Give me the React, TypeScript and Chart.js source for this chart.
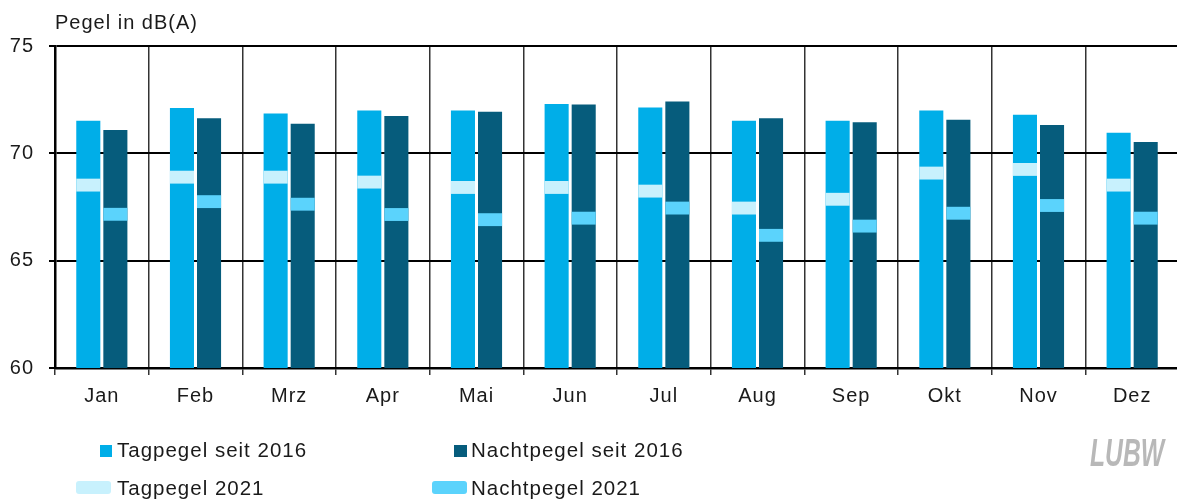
import React, { useEffect, useRef } from "react";
import { Chart, registerables } from "chart.js";

Chart.register(...registerables);

const months = ["Jan", "Feb", "Mrz", "Apr", "Mai", "Jun", "Jul", "Aug", "Sep", "Okt", "Nov", "Dez"];
const tag2016 = [71.52, 72.11, 71.86, 72.0, 72.0, 72.3, 72.13, 71.52, 71.52, 72.0, 71.8, 70.96];
const nacht2016 = [71.09, 71.63, 71.38, 71.74, 71.94, 72.28, 72.42, 71.63, 71.45, 71.57, 71.32, 70.53];
const tag2021 = [68.52, 68.89, 68.89, 68.66, 68.41, 68.41, 68.24, 67.45, 67.86, 69.08, 69.25, 68.52];
const nacht2021 = [67.16, 67.75, 67.63, 67.15, 66.91, 66.98, 67.45, 66.18, 66.61, 67.21, 67.57, 66.98];
const yTicks = [60, 65, 70, 75];
const legendLabels = ["Tagpegel seit 2016", "Nachtpegel seit 2016", "Tagpegel 2021", "Nachtpegel 2021"];
const axisTitle = "Pegel in dB(A)";
const logoText = "LUBW";

const BAND = 0.3;
const C_TAG = "#00AEE8";
const C_NACHT = "#065C7C";
const C_TAG21 = "#C8F1FD";
const C_NACHT21 = "#5BD3FC";
const FONT = '"Liberation Sans", Arial, sans-serif';
const TEXT = "#1a1a1a";

const decorPlugin = {
  id: "decor",
  beforeDraw(chart: any) {
    try {
      (chart.ctx as any).letterSpacing = "1px";
    } catch (e) {}
  },
  afterDraw(chart: any) {
    const ctx = chart.ctx as CanvasRenderingContext2D;
    ctx.save();
    try {
      (ctx as any).letterSpacing = "1px";
    } catch (e) {}
    ctx.fillStyle = TEXT;
    ctx.textBaseline = "alphabetic";
    ctx.textAlign = "left";
    ctx.font = `20px ${FONT}`;
    ctx.fillText(axisTitle, 55, 29);

    // legend
    ctx.fillStyle = C_TAG;
    ctx.fillRect(100, 445, 12, 12);
    ctx.fillStyle = C_NACHT;
    ctx.fillRect(454, 445, 13, 12);
    const rr = (x: number, y: number, w: number, h: number, r: number, c: string) => {
      ctx.fillStyle = c;
      ctx.beginPath();
      ctx.moveTo(x + r, y);
      ctx.lineTo(x + w - r, y);
      ctx.quadraticCurveTo(x + w, y, x + w, y + r);
      ctx.lineTo(x + w, y + h - r);
      ctx.quadraticCurveTo(x + w, y + h, x + w - r, y + h);
      ctx.lineTo(x + r, y + h);
      ctx.quadraticCurveTo(x, y + h, x, y + h - r);
      ctx.lineTo(x, y + r);
      ctx.quadraticCurveTo(x, y, x + r, y);
      ctx.closePath();
      ctx.fill();
    };
    rr(76, 481, 35, 13, 3, C_TAG21);
    rr(432, 481, 35, 13, 3, C_NACHT21);
    ctx.fillStyle = TEXT;
    ctx.font = `20.5px ${FONT}`;
    ctx.fillText(legendLabels[0], 117, 457);
    ctx.fillText(legendLabels[1], 471, 457);
    ctx.fillText(legendLabels[2], 117, 495);
    ctx.fillText(legendLabels[3], 471, 495);

    // logo
    ctx.fillStyle = "#b8b8b8";
    ctx.font = `italic bold 38px "Liberation Sans Narrow", ${FONT}`;
    try {
      (ctx as any).letterSpacing = "0px";
    } catch (e) {}
    ctx.fillText(logoText, 1090, 466, 74);
    ctx.restore();
  },
};

export default function App() {
  const ref = useRef<HTMLCanvasElement>(null);
  useEffect(() => {
    if (!ref.current) return;
    const chart = new Chart(ref.current, {
      type: "bar",
      data: {
        labels: months,
        datasets: [
          { label: legendLabels[0], data: tag2016, backgroundColor: C_TAG, stack: "tag", order: 2 },
          { label: legendLabels[1], data: nacht2016, backgroundColor: C_NACHT, stack: "nacht", order: 2 },
          {
            label: legendLabels[2],
            data: tag2021.map((v) => [v - BAND, v + BAND]) as any,
            backgroundColor: C_TAG21,
            stack: "tag",
            order: 1,
          },
          {
            label: legendLabels[3],
            data: nacht2021.map((v) => [v - BAND, v + BAND]) as any,
            backgroundColor: C_NACHT21,
            stack: "nacht",
            order: 1,
          },
        ],
      },
      options: {
        responsive: false,
        animation: false,
        devicePixelRatio: 1,
        categoryPercentage: 0.578,
        barPercentage: 0.889,
        layout: { padding: { top: 46, left: 0, right: 0, bottom: 0 } },
        plugins: { legend: { display: false }, tooltip: { enabled: false }, title: { display: false } },
        scales: {
          x: {
            offset: true,
            grid: { offset: true, color: "#333", lineWidth: 1.5, tickLength: 7, drawTicks: true },
            border: { display: true, color: "#000", width: 2.5 },
            ticks: { color: TEXT, font: { family: FONT, size: 20 }, padding: 9, maxRotation: 0 },
            afterFit: (s: any) => {
              s.height = 133;
            },
          },
          y: {
            stacked: false,
            min: 60,
            max: 75,
            afterBuildTicks: (s: any) => {
              s.ticks = yTicks.map((v) => ({ value: v }));
            },
            grid: { color: "#000", lineWidth: 2, tickLength: 6 },
            border: { display: true, color: "#000", width: 2.5 },
            ticks: { color: TEXT, font: { family: FONT, size: 20 }, padding: 15 },
            afterFit: (s: any) => {
              s.width = 55;
            },
          },
        },
      },
      plugins: [decorPlugin],
    });
    return () => chart.destroy();
  }, []);
  return (
    <div
      style={{
        position: "absolute",
        left: 0,
        top: 0,
        width: 1177,
        height: 501,
        overflow: "hidden",
        background: "#fff",
      }}
    >
      <canvas ref={ref} width={1179} height={501} style={{ display: "block" }} />
    </div>
  );
}
